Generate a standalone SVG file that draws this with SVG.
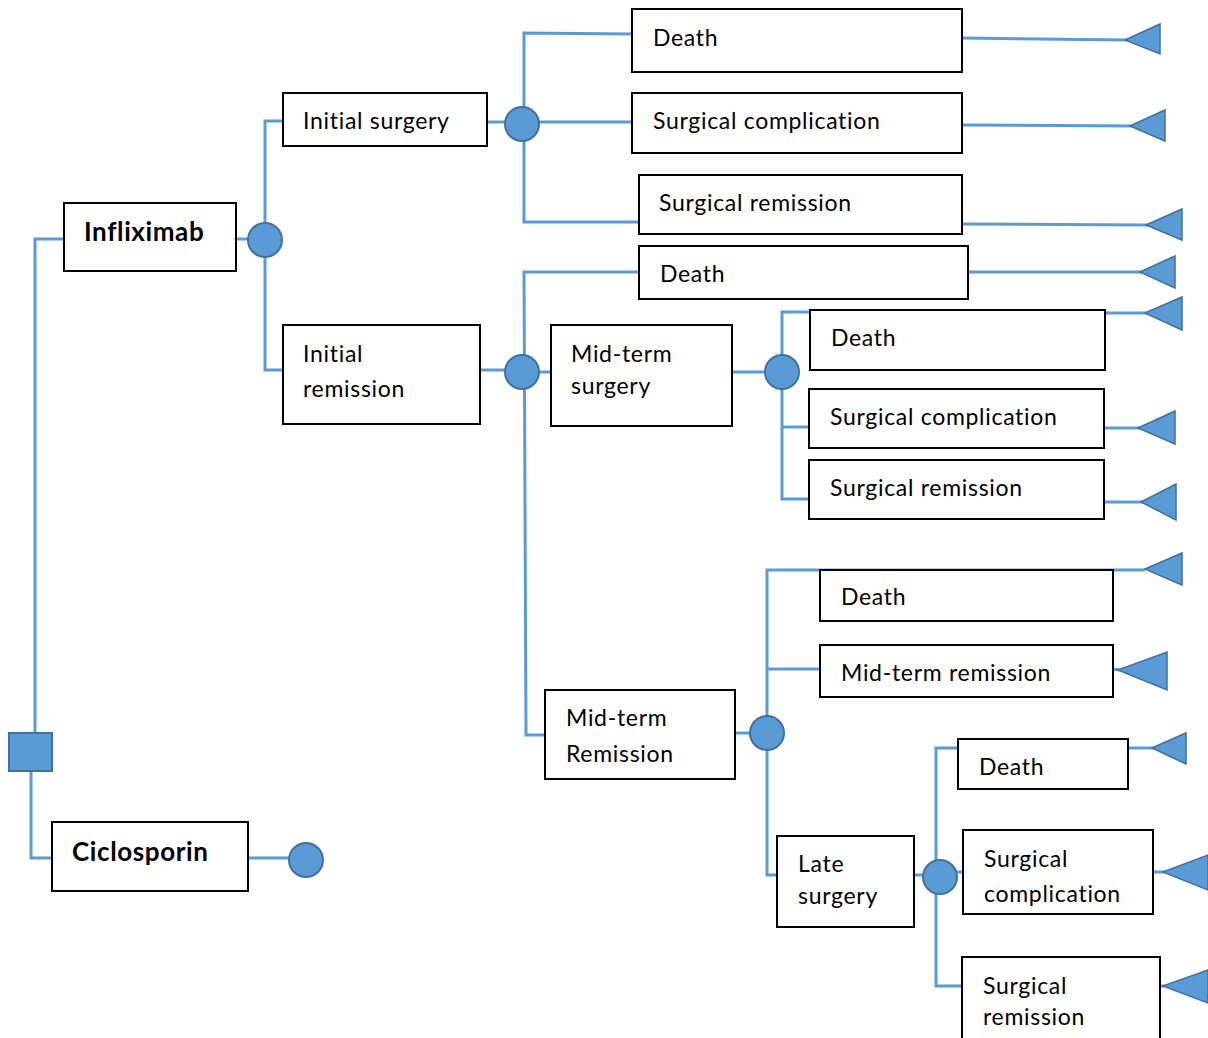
<svg xmlns="http://www.w3.org/2000/svg" width="1208" height="1038" viewBox="0 0 1208 1038">
<style>
.box{fill:#fff;stroke:#000;stroke-width:2}
.ln{fill:none;stroke:#5b9bd5;stroke-width:3}
.ch{fill:#5b9bd5;stroke:#41719c;stroke-width:2}
.tri{fill:#5b9bd5;stroke:#41719c;stroke-width:1.5}
text{font-family:Lato,"Open Sans","Liberation Sans",sans-serif;font-size:23px;letter-spacing:0.7px;fill:#000}
.b{font-weight:bold;font-size:26px;letter-spacing:0.6px}
</style>
<g id="connectors">
<polyline class="ln" points="35,733 35,239 64,239"/>
<polyline class="ln" points="31,771 31,858 52,858"/>
<line class="ln" x1="236" y1="239" x2="250" y2="239"/>
<polyline class="ln" points="283,121 265,121 265,370 283,370"/>
<line class="ln" x1="487" y1="122" x2="506" y2="122"/>
<polyline class="ln" points="632,34 524,33 524,222 639,222"/>
<line class="ln" x1="538" y1="122" x2="632" y2="122"/>
<line class="ln" x1="480" y1="370" x2="506" y2="370"/>
<polyline class="ln" points="639,272 524,272 526,735 545,735"/>
<line class="ln" x1="538" y1="372" x2="551" y2="372"/>
<line class="ln" x1="732" y1="372" x2="766" y2="372"/>
<polyline class="ln" points="810,312 782,312 782,499 809,499"/>
<line class="ln" x1="782" y1="427" x2="809" y2="427"/>
<line class="ln" x1="735" y1="733" x2="751" y2="733"/>
<polyline class="ln" points="1145,570 767,570 767,875 777,875"/>
<line class="ln" x1="767" y1="669" x2="820" y2="669"/>
<line class="ln" x1="914" y1="875" x2="924" y2="875"/>
<polyline class="ln" points="958,748 936,748 936,986 962,986"/>
<line class="ln" x1="956" y1="872" x2="963" y2="872"/>
<line class="ln" x1="248" y1="858" x2="290" y2="858"/>
<line class="ln" x1="962" y1="38" x2="1128" y2="40"/>
<line class="ln" x1="962" y1="125" x2="1132" y2="126"/>
<line class="ln" x1="962" y1="224" x2="1148" y2="225"/>
<line class="ln" x1="968" y1="272" x2="1142" y2="272"/>
<line class="ln" x1="1105" y1="313" x2="1147" y2="313"/>
<line class="ln" x1="1104" y1="428" x2="1140" y2="428"/>
<line class="ln" x1="1104" y1="502" x2="1143" y2="502"/>
<line class="ln" x1="1113" y1="669" x2="1120" y2="670"/>
<line class="ln" x1="1128" y1="748" x2="1154" y2="748"/>
<line class="ln" x1="1153" y1="872" x2="1165" y2="872"/>
<line class="ln" x1="1160" y1="986" x2="1165" y2="986"/>
</g>
<g id="decision"><rect class="ch" x="9" y="733" width="43" height="38"/></g>
<g id="chance-nodes">
<circle class="ch" cx="265" cy="240" r="17"/>
<circle class="ch" cx="522" cy="124" r="17"/>
<circle class="ch" cx="522" cy="372" r="17"/>
<circle class="ch" cx="782" cy="372" r="17"/>
<circle class="ch" cx="767" cy="733" r="17"/>
<circle class="ch" cx="940" cy="877" r="17"/>
<circle class="ch" cx="306" cy="860" r="17"/>
</g>
<g id="terminals">
<polygon class="tri" points="1125,40 1160,24 1160,54"/>
<polygon class="tri" points="1130,126 1165,110 1165,141"/>
<polygon class="tri" points="1146,225 1182,209 1182,240"/>
<polygon class="tri" points="1140,272 1175,256 1175,288"/>
<polygon class="tri" points="1145,313 1182,297 1182,330"/>
<polygon class="tri" points="1138,428 1175,411 1175,444"/>
<polygon class="tri" points="1141,502 1176,484 1176,520"/>
<polygon class="tri" points="1145,569 1182,553 1182,585"/>
<polygon class="tri" points="1118,670 1167,652 1167,690"/>
<polygon class="tri" points="1152,748 1186,733 1186,764"/>
<polygon class="tri" points="1163,872 1208,855 1208,890"/>
<polygon class="tri" points="1163,986 1208,970 1208,1003"/>
</g>
<g id="infliximab"><rect class="box" x="64" y="203" width="172" height="68"/><text class="b" x="84" y="241">Infliximab</text></g>
<g id="ciclosporin"><rect class="box" x="52" y="822" width="196" height="69"/><text class="b" x="72" y="861">Ciclosporin</text></g>
<g id="initial-surgery"><rect class="box" x="283" y="93" width="204" height="53"/><text x="303" y="129">Initial surgery</text></g>
<g id="initial-remission"><rect class="box" x="283" y="325" width="197" height="99"/><text x="303" y="362">Initial</text><text x="303" y="397">remission</text></g>
<g id="is-death"><rect class="box" x="632" y="9" width="330" height="63"/><text x="653" y="46">Death</text></g>
<g id="is-complication"><rect class="box" x="632" y="93" width="330" height="60"/><text x="653" y="129">Surgical complication</text></g>
<g id="is-remission"><rect class="box" x="639" y="175" width="323" height="59"/><text x="659" y="211">Surgical remission</text></g>
<g id="ir-death"><rect class="box" x="639" y="246" width="329" height="53"/><text x="660" y="282">Death</text></g>
<g id="midterm-surgery"><rect class="box" x="551" y="325" width="181" height="101"/><text x="571" y="362">Mid-term</text><text x="571" y="394">surgery</text></g>
<g id="ms-death"><rect class="box" x="810" y="310" width="295" height="60"/><text x="831" y="346">Death</text></g>
<g id="ms-complication"><rect class="box" x="809" y="389" width="295" height="59"/><text x="830" y="425">Surgical complication</text></g>
<g id="ms-remission"><rect class="box" x="809" y="460" width="295" height="59"/><text x="830" y="496">Surgical remission</text></g>
<g id="midterm-remission"><rect class="box" x="545" y="690" width="190" height="89"/><text x="566" y="726">Mid-term</text><text x="566" y="762">Remission</text></g>
<g id="mr-death"><rect class="box" x="820" y="570" width="293" height="51"/><text x="841" y="605">Death</text></g>
<g id="mr-remission"><rect class="box" x="820" y="645" width="293" height="52"/><text x="841" y="681">Mid-term remission</text></g>
<g id="late-surgery"><rect class="box" x="777" y="836" width="137" height="91"/><text x="798" y="872">Late</text><text x="798" y="904">surgery</text></g>
<g id="ls-death"><rect class="box" x="958" y="739" width="170" height="50"/><text x="979" y="775">Death</text></g>
<g id="ls-complication"><rect class="box" x="963" y="830" width="190" height="84"/><text x="984" y="867">Surgical</text><text x="984" y="902">complication</text></g>
<g id="ls-remission"><rect class="box" x="962" y="957" width="198" height="90"/><text x="983" y="994">Surgical</text><text x="983" y="1025">remission</text></g>
</svg>
